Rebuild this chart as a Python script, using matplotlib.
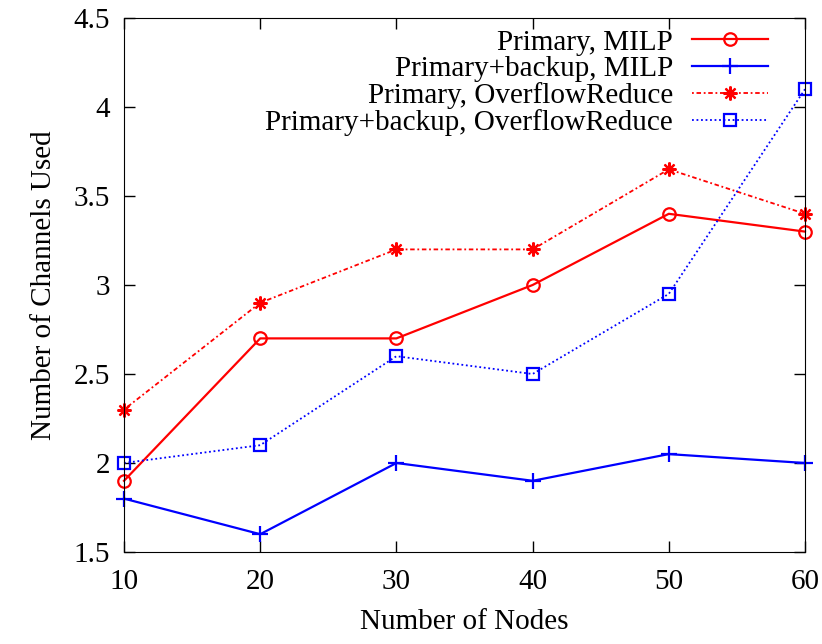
import matplotlib
matplotlib.use("Agg")
import matplotlib.pyplot as plt

plt.rcParams['font.family'] = ['Liberation Serif', 'DejaVu Serif']

nodes = [10, 20, 30, 40, 50, 60]
primary_milp = [1.9, 2.7, 2.7, 3.0, 3.4, 3.3]
backup_milp = [1.8, 1.6, 2.0, 1.9, 2.05, 2.0]
primary_or = [2.3, 2.9, 3.2, 3.2, 3.65, 3.4]
backup_or = [2.0, 2.1, 2.6, 2.5, 2.95, 4.1]

fig = plt.figure(figsize=(8.22, 6.44), dpi=100)
ax = fig.add_axes([124/822, 1 - 552/644, (805-124)/822, (552-18)/644])

ax.plot(nodes, primary_milp, color='red', lw=1.6, marker='o', ms=9,
        mfc='none', mew=1.6, clip_on=False, label='Primary, MILP')
ax.plot(nodes, backup_milp, color='blue', lw=1.6, marker='+', ms=11,
        mew=1.6, clip_on=False, label='Primary+backup, MILP')
ax.plot(nodes, primary_or, color='red', lw=1.3, ls=(0, (1, 1.5, 2.5, 1.5)),
        marker=(8, 2, 0), ms=10, mew=1.6, clip_on=False,
        label='Primary, OverflowReduce')
ax.plot(nodes, backup_or, color='blue', lw=1.3, ls=(0, (1, 1.5)),
        marker='s', ms=8, mfc='none', mew=1.6, clip_on=False,
        label='Primary+backup, OverflowReduce')

ax.set_xlim(10, 60)
ax.set_ylim(1.5, 4.5)
ax.set_xticks(nodes)
ax.set_yticks([1.5, 2, 2.5, 3, 3.5, 4, 4.5])
ax.set_yticklabels(['1.5', '2', '2.5', '3', '3.5', '4', '4.5'])
ax.tick_params(direction='in', length=8, width=1, top=True, right=True,
               labelsize=21)
ax.tick_params(axis='x', pad=12)
ax.tick_params(axis='y', pad=10)
ax.set_xlabel('Number of Nodes', fontsize=21, labelpad=10)
ax.set_ylabel('Number of Channels Used', fontsize=21, labelpad=12)

ax.legend(loc='upper right', bbox_to_anchor=(0.971, 1.012), frameon=False,
          markerfirst=False, fontsize=21, handlelength=2.6,
          handletextpad=0.65, labelspacing=0.0, borderaxespad=0.2)

fig.savefig('out.png', dpi=100)
